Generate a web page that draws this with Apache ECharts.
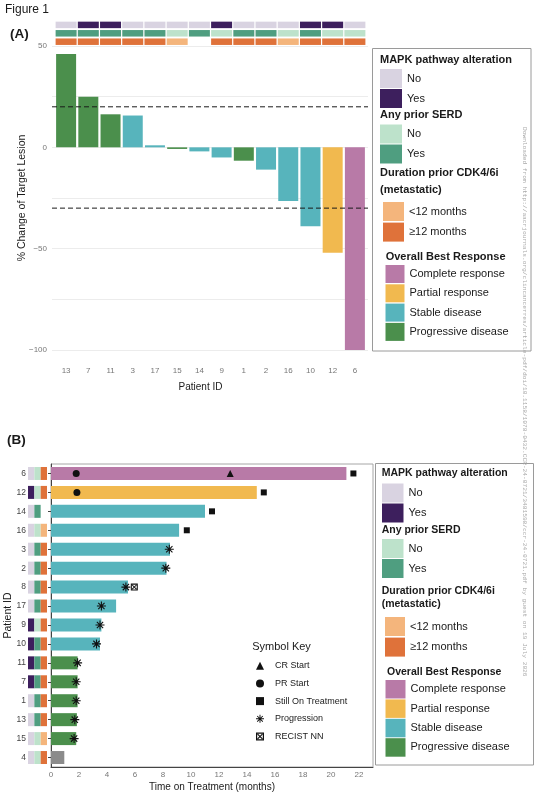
<!DOCTYPE html>
<html>
<head>
<meta charset="utf-8">
<script src="https://cdn.jsdelivr.net/npm/echarts@6/dist/echarts.min.js"></script>
<style>html,body{margin:0;padding:0;background:#fff}#c{width:538px;height:800px}</style>
</head>
<body>
<div id="c"></div>
<script>
const FONT = '"Liberation Sans", Arial, Helvetica, sans-serif';

// ---------- Panel A: waterfall ----------
const patientsA  = ['13','7','11','3','17','15','14','9','1','2','16','10','12','6'];
const pctChangeA = [46, 25, 16.3, 15.7, 1, -0.8, -2, -5, -6.6, -11, -26.5, -39, -52, -100];
const responseA  = ['PD','PD','PD','SD','SD','PD','SD','SD','PD','SD','SD','SD','PR','CR'];
const mapkA      = ['No','Yes','Yes','No','No','No','No','Yes','No','No','No','Yes','Yes','No'];
const serdA      = ['Yes','Yes','Yes','Yes','Yes','No','Yes','No','Yes','Yes','No','Yes','No','No'];
const cdkA       = ['>=12','>=12','>=12','>=12','>=12','<12',null,'>=12','>=12','>=12','<12','>=12','>=12','>=12'];
const thresholdsA = [20, -30];
const yTicksA    = [-100, -50, 0, 50];

// ---------- Panel B: swimmer ----------
const patientsB  = ['6','12','14','16','3','2','8','17','9','10','11','7','1','13','15','4'];
const monthsB    = [21.1, 14.7, 11.0, 9.15, 8.5, 8.25, 5.5, 4.65, 3.6, 3.5, 1.9, 1.9, 1.9, 1.85, 1.8, 0.95];
const responseB  = ['CR','PR','SD','SD','SD','SD','SD','SD','SD','SD','PD','PD','PD','PD','PD','NE'];
const mapkB      = ['No','Yes','No','No','No','No','No','No','Yes','Yes','Yes','Yes','No','No','No','No'];
const serdB      = ['No','No','Yes','No','Yes','Yes','Yes','Yes','No','Yes','Yes','Yes','Yes','Yes','No','No'];
const cdkB       = ['>=12','>=12',null,'<12','>=12','>=12','>=12','>=12','>=12','>=12','>=12','>=12','>=12','>=12','<12','>=12'];
const crStartB   = [['6', 12.8]];
const prStartB   = [['6', 1.8], ['12', 1.85]];
const stillOnB   = [['6', 21.6], ['12', 15.2], ['14', 11.5], ['16', 9.7]];
const progressionB = [['3', 8.45], ['2', 8.2], ['8', 5.35], ['17', 3.6], ['9', 3.5], ['10', 3.25], ['11', 1.9], ['7', 1.8], ['1', 1.8], ['13', 1.7], ['15', 1.65]];
const recistNNB  = [['8', 5.95]];
const xTicksB    = [0, 2, 4, 6, 8, 10, 12, 14, 16, 18, 20, 22];

const stripRows = ['MAPK', 'SERD', 'CDK'];
const respNames = {CR: 'Complete response', PR: 'Partial response', SD: 'Stable disease', PD: 'Progressive disease', NE: 'Not evaluable'};

const COL = {
  'MAPK:No': '#d9d3e1', 'MAPK:Yes': '#3d1f5d',
  'SERD:No': '#bde2cb', 'SERD:Yes': '#4f9e80',
  'CDK:<12': '#f4b57c', 'CDK:>=12': '#df723a',
  'Complete response': '#b87aa7', 'Partial response': '#f1b94f',
  'Stable disease': '#57b4bc', 'Progressive disease': '#4b8f4c', 'Not evaluable': '#8b8b8b'
};
const legendLabel = {'MAPK:No': 'No', 'MAPK:Yes': 'Yes', 'SERD:No': 'No', 'SERD:Yes': 'Yes', 'CDK:<12': '<12 months', 'CDK:>=12': '\u226512 months'};

const ASTERISK = 'path://M8.8,0L11.2,0L11.2,20L8.8,20Z M0,8.8L20,8.8L20,11.2L0,11.2Z M2.15,3.85L3.85,2.15L17.85,16.15L16.15,17.85Z M16.15,2.15L17.85,3.85L3.85,17.85L2.15,16.15Z';
const RECIST = 'path://M0,0L20,0L20,20L0,20Z M3,3L3,17L17,17L17,3Z M3,5L5,3L17,15L15,17Z M15,3L17,5L5,17L3,15Z';

function stripSeries(patients, values, row, xIdx, yIdx, size, rowOnY) {
  const groups = {};
  values.forEach((v, i) => { if (v == null) return; const k = row + ':' + v; (groups[k] = groups[k] || []).push(i); });
  return Object.keys(groups).map(k => ({
    name: k, type: 'scatter', xAxisIndex: xIdx, yAxisIndex: yIdx, symbol: 'rect', symbolSize: size,
    itemStyle: {color: COL[k], opacity: 1}, silent: true, z: 3,
    data: groups[k].map(i => rowOnY ? [patients[i], row] : [row, patients[i]])
  }));
}

const series = [];
thresholdsA.forEach(t => series.push({
  name: 'threshold ' + t, type: 'line', xAxisIndex: 0, yAxisIndex: 0, data: [[0, t], [1, t]],
  symbol: 'none', silent: true, z: 6, lineStyle: {color: '#1a1a1a', width: 1, type: [5, 3]}
}));
['CR', 'PR', 'SD', 'PD'].forEach(r => series.push({
  name: respNames[r], type: 'bar', xAxisIndex: 1, yAxisIndex: 1, stack: 'A', barWidth: 20,
  itemStyle: {color: COL[respNames[r]]}, silent: true, z: 2,
  data: pctChangeA.map((v, i) => responseA[i] === r ? v : '-')
}));
series.push(...stripSeries(patientsA, mapkA, 'MAPK', 2, 2, [21, 6.5], true));
series.push(...stripSeries(patientsA, serdA, 'SERD', 2, 2, [21, 6.5], true));
series.push(...stripSeries(patientsA, cdkA, 'CDK', 2, 2, [21, 6.5], true));
['CR', 'PR', 'SD', 'PD', 'NE'].forEach(r => series.push({
  name: respNames[r], type: 'bar', xAxisIndex: 3, yAxisIndex: 3, stack: 'B', barWidth: 13,
  itemStyle: {color: COL[respNames[r]]}, silent: true, z: 2,
  data: monthsB.map((v, i) => responseB[i] === r ? v : '-')
}));
series.push(...stripSeries(patientsB, mapkB, 'MAPK', 4, 4, [6.3, 13], false));
series.push(...stripSeries(patientsB, serdB, 'SERD', 4, 4, [6.3, 13], false));
series.push(...stripSeries(patientsB, cdkB, 'CDK', 4, 4, [6.3, 13], false));
const markerDefs = [
  ['CR Start', crStartB, 'triangle', 7],
  ['PR Start', prStartB, 'circle', 7],
  ['Still On Treatment', stillOnB, 'rect', 6],
  ['Progression', progressionB, ASTERISK, 9],
  ['RECIST NN', recistNNB, RECIST, 7]
];
markerDefs.forEach(([name, pts, sym, sz]) => series.push({
  name, type: 'scatter', xAxisIndex: 3, yAxisIndex: 3, symbol: sym, symbolSize: sz,
  itemStyle: {color: '#111', opacity: 1}, silent: true, z: 5,
  data: pts.map(p => [p[1], p[0]])
}));

function swatchLegend(names, left, top, w, h, gap, fs) {
  return {
    orient: 'vertical', left, top, padding: 0, itemWidth: w, itemHeight: h, itemGap: gap,
    icon: 'rect', selectedMode: false, data: names,
    formatter: n => legendLabel[n] || n,
    textStyle: {fontSize: fs, color: '#1a1a1a', fontFamily: FONT}
  };
}
const respLegendNames = ['Complete response', 'Partial response', 'Stable disease', 'Progressive disease'];

const legends = [
  swatchLegend(['MAPK:No', 'MAPK:Yes'], 380, 69, 22, 19, 1, 11),
  swatchLegend(['SERD:No', 'SERD:Yes'], 380, 124.5, 22, 19, 1, 11),
  swatchLegend(['CDK:<12', 'CDK:>=12'], 383, 202, 21, 19, 1.6, 11),
  swatchLegend(respLegendNames, 385.5, 265, 19, 18, 1.3, 11),
  swatchLegend(['MAPK:No', 'MAPK:Yes'], 382, 483.5, 21.5, 19, 1, 11),
  swatchLegend(['SERD:No', 'SERD:Yes'], 382, 539, 21.5, 19, 1, 11),
  swatchLegend(['CDK:<12', 'CDK:>=12'], 385, 617, 20, 19, 1.6, 11),
  swatchLegend(respLegendNames, 385.5, 680, 20, 18.5, 0.9, 11),
  {
    orient: 'vertical', left: 256, top: 660.2, padding: 0, itemWidth: 8, itemHeight: 8, itemGap: 6.7,
    selectedMode: false,
    data: markerDefs.map(m => ({name: m[0], icon: m[2]})),
    textStyle: {fontSize: 9, lineHeight: 11, color: '#1a1a1a', fontFamily: FONT, padding: [0, 0, 0, 6]}
  }
];

function txt(text, x, y, size, weight, extra) {
  return Object.assign({type: 'text', x, y, silent: true, style: {
    text, fill: '#1a1a1a', font: (weight || 'normal') + ' ' + size + 'px ' + FONT, align: 'left', verticalAlign: 'middle'
  }}, extra || {});
}

const graphics = [
  txt('Figure 1', 5, 10, 12),
  txt('(A)', 10, 34, 13.5, 'bold'),
  txt('(B)', 7, 440, 13.5, 'bold'),
  {type: 'rect', silent: true, shape: {x: 372.5, y: 48.5, width: 158.5, height: 302.5}, style: {fill: 'none', stroke: '#9a9a9a', lineWidth: 1}},
  txt('MAPK pathway alteration', 380, 59.5, 11, 'bold'),
  txt('Any prior SERD', 380, 115, 11, 'bold'),
  txt('Duration prior CDK4/6i', 380, 173.3, 11, 'bold'),
  txt('(metastatic)', 380, 190, 11, 'bold'),
  txt('Overall Best Response', 385.7, 257, 11, 'bold'),
  {type: 'rect', silent: true, shape: {x: 375.5, y: 463.5, width: 158, height: 301.5}, style: {fill: 'none', stroke: '#9a9a9a', lineWidth: 1}},
  txt('MAPK pathway alteration', 381.7, 473.3, 10.5, 'bold'),
  txt('Any prior SERD', 381.7, 530, 10.5, 'bold'),
  txt('Duration prior CDK4/6i', 381.7, 591, 10.5, 'bold'),
  txt('(metastatic)', 381.7, 604.3, 10.5, 'bold'),
  txt('Overall Best Response', 387, 672.3, 10.5, 'bold'),
  {type: 'text', x: 281.5, y: 646.7, silent: true, style: {text: 'Symbol Key', fill: '#1a1a1a', font: '11px ' + FONT, align: 'center', verticalAlign: 'middle'}},
  {type: 'text', x: 524.5, y: 127, rotation: -Math.PI / 2, silent: true, style: {
    text: 'Downloaded from http://aacrjournals.org/clincancerres/article-pdf/doi/10.1158/1078-0432.CCR-24-0721/3481598/ccr-24-0721.pdf by guest on 19 July 2026',
    fill: '#a8a8a8', font: '6.2px "Liberation Mono", "DejaVu Sans Mono", monospace', align: 'left', verticalAlign: 'middle'
  }}
];

const option = {
  animation: false,
  backgroundColor: '#ffffff',
  textStyle: {fontFamily: FONT},
  grid: [
    {left: 52, top: 46, width: 316, height: 304, outerBoundsMode: 'none'},
    {left: 55, top: 46, width: 311, height: 304, outerBoundsMode: 'none'},
    {left: 55, top: 20.7, width: 311, height: 25.2, outerBoundsMode: 'none'},
    {left: 51, top: 464, width: 322, height: 303, show: true, borderColor: '#a6a6a6', borderWidth: 1, outerBoundsMode: 'none'},
    {left: 28, top: 464, width: 19, height: 303, outerBoundsMode: 'none'}
  ],
  xAxis: [
    {gridIndex: 0, type: 'value', min: 0, max: 1, show: false},
    {gridIndex: 1, type: 'category', data: patientsA, axisLine: {show: false, onZero: false}, axisTick: {show: false},
      axisLabel: {color: '#777', fontSize: 8, margin: 17, fontFamily: FONT},
      name: 'Patient ID', nameLocation: 'middle', nameGap: 32, nameMoveOverlap: false,
      nameTextStyle: {fontSize: 10, color: '#1a1a1a', fontFamily: FONT, padding: [0, 20, 0, 0]}},
    {gridIndex: 2, type: 'category', data: patientsA, show: false},
    {gridIndex: 3, type: 'value', min: 0, max: 23, interval: 2,
      axisLine: {show: true, onZero: false, lineStyle: {color: '#444', width: 1}}, axisTick: {show: false}, splitLine: {show: false},
      axisLabel: {color: '#777', fontSize: 8, margin: 4, fontFamily: FONT, formatter: v => xTicksB.includes(v) ? String(v) : ''},
      name: 'Time on Treatment (months)', nameLocation: 'middle', nameGap: 15, nameMoveOverlap: false,
      nameTextStyle: {fontSize: 10, color: '#1a1a1a', fontFamily: FONT}},
    {gridIndex: 4, type: 'category', data: stripRows, show: false}
  ],
  yAxis: [
    {gridIndex: 0, type: 'value', min: -100, max: 50, interval: 25,
      axisLine: {show: false}, axisTick: {show: false},
      splitLine: {lineStyle: {color: '#ececec', width: 1}},
      axisLabel: {color: '#777', fontSize: 8, margin: 5, fontFamily: FONT,
        formatter: v => yTicksA.includes(v) ? String(v).replace('-', '\u2212') : ''},
      name: '% Change of Target Lesion', nameLocation: 'middle', nameGap: 24, nameMoveOverlap: false,
      nameTextStyle: {fontSize: 10.5, color: '#1a1a1a', fontFamily: FONT}},
    {gridIndex: 1, type: 'value', min: -100, max: 50, show: false},
    {gridIndex: 2, type: 'category', data: stripRows, inverse: true, show: false},
    {gridIndex: 3, type: 'category', data: patientsB, inverse: true,
      axisLine: {show: true, onZero: false, lineStyle: {color: '#444', width: 1}},
      axisTick: {show: true, length: 3, alignWithLabel: true, lineStyle: {color: '#444'}},
      axisLabel: {color: '#444', fontSize: 8.5, margin: 25, fontFamily: FONT},
      name: 'Patient ID', nameLocation: 'middle', nameGap: 37, nameMoveOverlap: false,
      nameTextStyle: {fontSize: 10.5, color: '#1a1a1a', fontFamily: FONT}},
    {gridIndex: 4, type: 'category', data: patientsB, inverse: true, show: false}
  ],
  legend: legends,
  series,
  graphic: graphics
};

const chart = echarts.init(document.getElementById('c'), null, {renderer: 'canvas'});
chart.setOption(option);
</script>
</body>
</html>
